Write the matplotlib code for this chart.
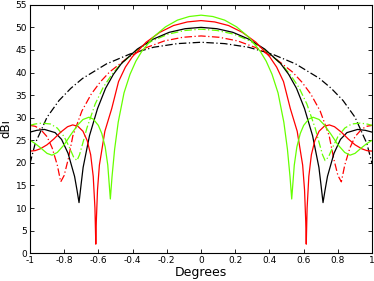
import numpy as np
import matplotlib.pyplot as plt

plt.rcParams['axes.unicode_minus'] = False

# half patterns (0..1 deg), the patterns are symmetric about 0
green_x = [0, 0.069, 0.138, 0.208, 0.277, 0.346, 0.381, 0.415, 0.450, 0.484, 0.505, 0.52, 0.53,
           0.545, 0.56, 0.58, 0.60, 0.63, 0.655, 0.69, 0.72, 0.76, 0.80, 0.84, 0.871, 0.90, 0.94, 0.97, 1.0]
green_y = [52.7, 52.4, 51.6, 50.1, 47.9, 44.7, 42.5, 39.6, 35.5, 29.0, 23.0, 17.0, 12.0,
           19.5, 23.5, 26.5, 28.3, 29.7, 30.1, 29.6, 28.4, 26.3, 24.0, 22.3, 21.7, 22.1, 23.4, 24.3, 25.0]

red_x = [0, 0.080, 0.161, 0.241, 0.321, 0.401, 0.442, 0.482, 0.522, 0.562, 0.594, 0.605, 0.612, 0.615,
         0.62, 0.63, 0.645, 0.665, 0.69, 0.72, 0.75, 0.78, 0.82, 0.86, 0.90, 0.94, 0.97, 1.0]
red_y = [51.5, 51.2, 50.4, 48.9, 46.7, 43.5, 41.2, 38.0, 32.0, 27.0, 19.5, 14.0, 7.0, 2.0,
         10.0, 17.0, 21.8, 24.9, 27.0, 28.1, 28.4, 28.0, 26.8, 25.3, 24.0, 23.1, 22.7, 22.6]

black_x = [0, 0.093, 0.186, 0.279, 0.372, 0.465, 0.512, 0.558, 0.605, 0.652, 0.689, 0.70, 0.713,
           0.725, 0.739, 0.777, 0.815, 0.853, 0.915, 0.96, 1.0]
black_y = [50.0, 49.7, 48.9, 47.4, 45.2, 42.0, 39.6, 36.5, 32.0, 26.0, 19.0, 15.5, 11.2,
           14.0, 17.0, 22.1, 25.2, 26.7, 27.4, 27.2, 26.8]

green_dd_x = [0, 0.095, 0.191, 0.286, 0.381, 0.476, 0.524, 0.572, 0.619, 0.667, 0.69, 0.71, 0.725,
              0.745, 0.77, 0.80, 0.84, 0.88, 0.93, 0.97, 1.0]
green_dd_y = [49.6, 49.3, 48.5, 47.0, 44.8, 41.6, 39.4, 36.7, 33.0, 27.7, 24.5, 21.8, 20.5,
              21.3, 23.5, 25.8, 27.7, 28.6, 28.8, 28.6, 28.3]

red_dd_x = [0, 0.107, 0.214, 0.321, 0.428, 0.535, 0.589, 0.642, 0.696, 0.749, 0.775, 0.80, 0.82,
            0.84, 0.87, 0.90, 0.94, 0.97, 1.0]
red_dd_y = [48.1, 47.8, 47.0, 45.5, 43.3, 40.1, 37.9, 35.2, 31.5, 26.0, 21.0, 17.2, 15.8,
            19.5, 23.3, 25.8, 27.5, 28.1, 28.3]

black_dd_x = [0, 0.138, 0.277, 0.415, 0.553, 0.692, 0.761, 0.830, 0.900, 0.969, 1.0]
black_dd_y = [46.7, 46.4, 45.6, 44.1, 41.9, 38.7, 36.5, 33.8, 30.1, 24.3, 19.8]

xticks = [-1, -0.8, -0.6, -0.4, -0.2, 0, 0.2, 0.4, 0.6, 0.8, 1]
yticks = list(range(0, 56, 5))


def mirror(x, y):
    x = np.asarray(x)
    y = np.asarray(y)
    return np.concatenate([-x[::-1], x[1:]]), np.concatenate([y[::-1], y[1:]])


lime = '#66ff00'
dashdot = (0, (6, 2, 1, 2))

fig = plt.figure(figsize=(3.74, 2.81), dpi=100)
ax = fig.add_axes([0.080, 0.099, 0.915, 0.884])

curves = [
    (black_dd_x, black_dd_y, 'black', dashdot),
    (red_dd_x, red_dd_y, 'red', dashdot),
    (green_dd_x, green_dd_y, lime, dashdot),
    (black_x, black_y, 'black', '-'),
    (red_x, red_y, 'red', '-'),
    (green_x, green_y, lime, '-'),
]
for xs, ys, c, ls in curves:
    xx, yy = mirror(xs, ys)
    ax.plot(xx, yy, color=c, linestyle=ls, linewidth=0.9)

ax.set_xlim(-1, 1)
ax.set_ylim(0, 55)
ax.set_xticks(xticks)
ax.set_xticklabels([f'{t:g}' for t in xticks])
ax.set_yticks(yticks)
ax.tick_params(direction='in', top=True, right=True, labelsize=6.5, length=3, width=0.6, pad=2)
for s in ax.spines.values():
    s.set_linewidth(0.8)
ax.set_xlabel('Degrees', fontsize=9, labelpad=1)
ax.set_ylabel('dBi', fontsize=8.5, labelpad=2)

fig.savefig('out.png', dpi=100)
